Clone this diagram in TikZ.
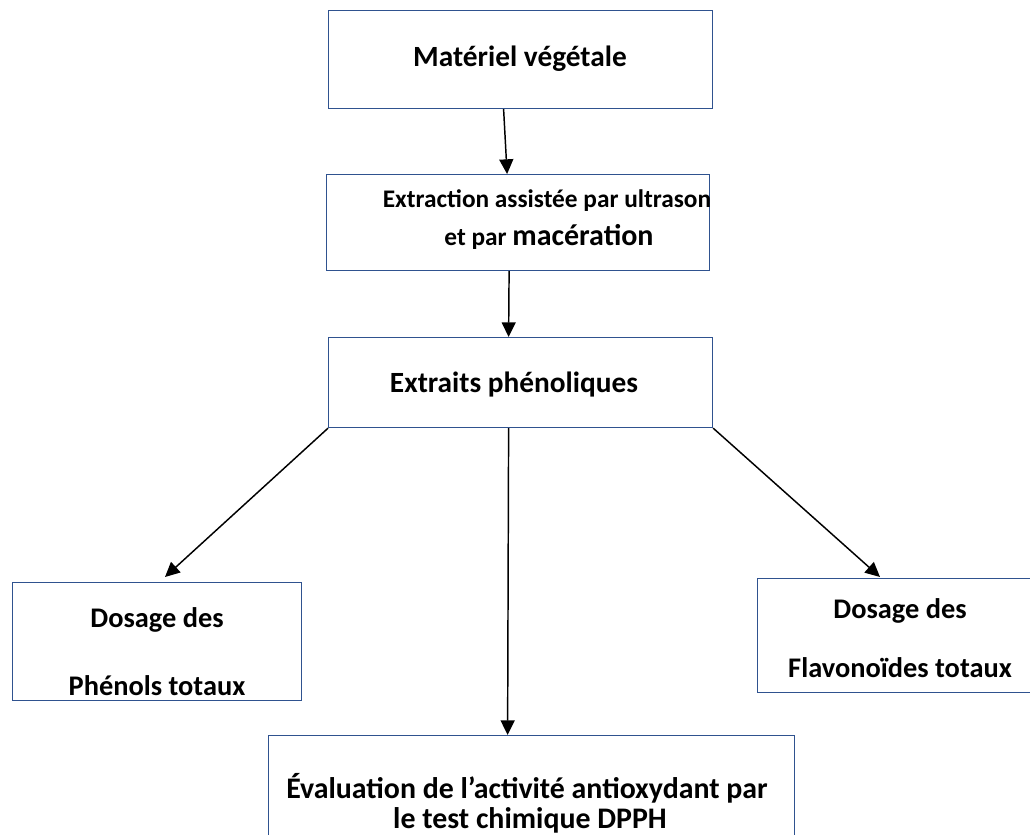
\documentclass[tikz,border=0pt]{standalone}
\usepackage{fontspec}
\setmainfont{Carlito}
\usetikzlibrary{arrows.meta,calc}
\definecolor{boxblue}{RGB}{47,82,143}
\tikzset{
  boxnode/.style={draw=boxblue, line width=0.9pt, rectangle, inner sep=0pt},
  lbl/.style={font=\bfseries\fontsize{22}{26}\selectfont, anchor=base, inner sep=0pt},
  lbldos/.style={font=\bfseries\fontsize{21.3}{25}\selectfont, anchor=base, inner sep=0pt},
  lblsmall/.style={font=\bfseries\fontsize{19}{22}\selectfont, anchor=base, inner sep=0pt},
  lblbig/.style={font=\bfseries\fontsize{22.4}{26}\selectfont, anchor=base, inner sep=0pt},
  arr/.style={draw=black, line width=1.1pt, -{Triangle[length=11pt,width=10.5pt]}}
}
\newcommand{\bx}[5]{\node[boxnode, minimum width=#4*0.75pt-#2*0.75pt, minimum height=#5*0.75pt-#3*0.75pt, anchor=north west] (#1) at (#2,#3) {};}
\begin{document}
\begin{tikzpicture}[x=0.75pt,y=-0.75pt]
\useasboundingbox (0,0) rectangle (1030,834);
% boxes
\bx{b1}{328}{10}{712}{108}
\bx{b2}{326}{174}{709}{270}
\bx{b3}{328}{337}{712}{427}
\bx{b4}{12}{582}{301}{700}
\bx{b5}{757}{578}{1034}{692}
\bx{b6}{268}{735}{794}{860}
% labels
\node[lbl] (t1) at (520,67) {Matériel végétale};
\node[lblsmall] (t2a) at (547,208) {Extraction assistée par ultrason};
\node[lblsmall] (t2b) at (549,245) {et par {\fontsize{22.5}{26}\selectfont macération}};
\node[lbl] (t3) at (514,392) {Extraits phénoliques};
\node[lbldos] (t4a) at (157,627) {Dosage des};
\node[lbldos] (t4b) at (157,695) {Phénols totaux};
\node[lbldos] (t5a) at (900,618) {Dosage des};
\node[lbldos] (t5b) at (900,677) {Flavonoïdes totaux};
\node[lblbig] (t6a) at (527,798) {Évaluation de l’activité antioxydant par};
\node[lblbig] (t6b) at (530,828) {le test chimique DPPH};
% connectors
\coordinate (e1) at ($(b2.north)+(-11,0)$);
\draw[arr] ($(b1.south)+(-17,0)$) -- (e1);
\draw[arr] ($(b2.south)+(-9,0)$) -- ($(b3.north)+(-12,0)$);
\coordinate (e3) at (165,577);
\draw[arr] (b3.south west) -- (e3);
\draw[arr] ($(b3.south)+(-12,0)$) -- ($(b6.north)+(-24,0)$);
\coordinate (e5) at (880,577);
\draw[arr] (b3.south east) -- (e5);
\end{tikzpicture}
\end{document}
